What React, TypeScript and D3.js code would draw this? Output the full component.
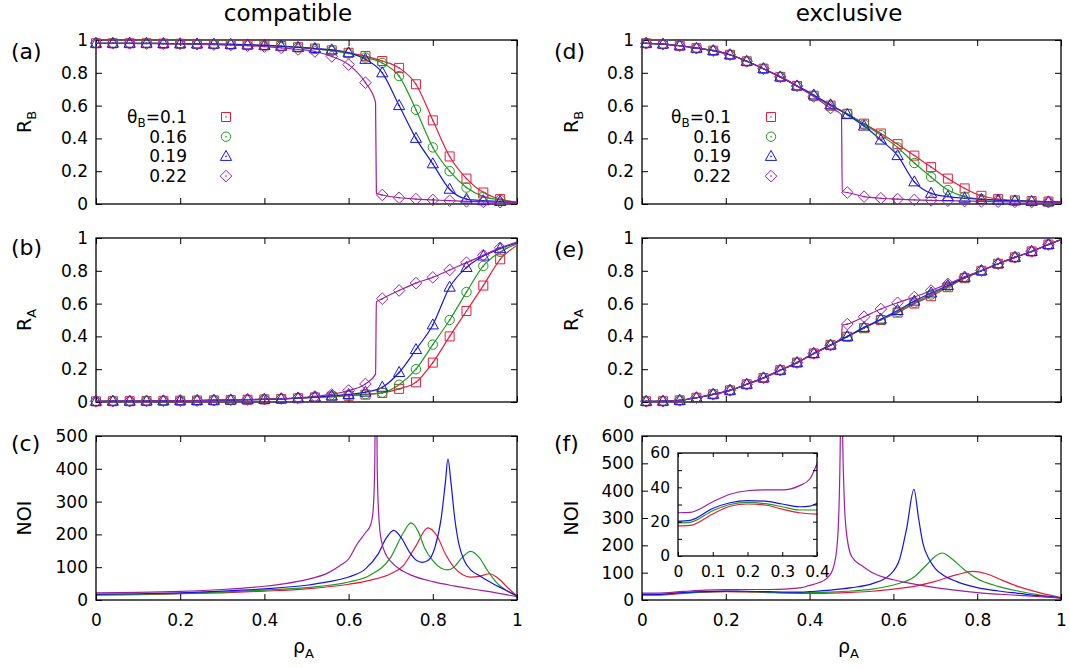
import React, { useRef, useEffect } from "react";
import * as d3 from "d3";

const W = 1070;
const H = 668;
const FONT = "'DejaVu Sans', sans-serif";

// legend / series
const thetaB = ["0.1", "0.16", "0.19", "0.22"];
const colors = ["#e41c3c", "#1e9a1e", "#1414e0", "#9c1fa3"];
const shapes = ["square", "circle", "triangle", "diamond"];

// ticks
const unitTicks = [0, 0.2, 0.4, 0.6, 0.8, 1];
const noiTicksC = [0, 100, 200, 300, 400, 500];
const noiTicksF = [0, 100, 200, 300, 400, 500, 600];
const insetXTicks = [0, 0.1, 0.2, 0.3, 0.4];
const insetYTicks = [0, 10, 20, 30, 40, 50, 60];
const insetYLabels = [0, 20, 40, 60];

// marker abscissae (rho_A)
const rhoLeft = [0, 0.04, 0.08, 0.12, 0.16, 0.2, 0.24, 0.28, 0.32, 0.36, 0.4, 0.44, 0.48, 0.52, 0.56, 0.6, 0.64, 0.68, 0.72, 0.76, 0.8, 0.84, 0.88, 0.92, 0.96];
const rhoRight = [0.01, 0.05, 0.09, 0.13, 0.17, 0.21, 0.25, 0.29, 0.33, 0.37, 0.41, 0.45, 0.49, 0.53, 0.57, 0.61, 0.65, 0.69, 0.73, 0.77, 0.81, 0.85, 0.89, 0.93, 0.97];

// (a) R_B, compatible
const aRed = [0.98, 0.98, 0.98, 0.98, 0.978, 0.977, 0.976, 0.975, 0.973, 0.97, 0.967, 0.963, 0.956, 0.948, 0.937, 0.922, 0.902, 0.872, 0.83, 0.73, 0.51, 0.29, 0.155, 0.07, 0.03];
const aGreen = [0.98, 0.98, 0.98, 0.98, 0.978, 0.977, 0.976, 0.975, 0.973, 0.97, 0.967, 0.962, 0.955, 0.946, 0.934, 0.918, 0.893, 0.86, 0.78, 0.575, 0.345, 0.2, 0.1, 0.045, 0.025];
const aBlue = [0.98, 0.98, 0.98, 0.98, 0.978, 0.977, 0.976, 0.975, 0.973, 0.97, 0.967, 0.962, 0.955, 0.948, 0.94, 0.922, 0.882, 0.8, 0.6, 0.4, 0.245, 0.09, 0.03, 0.02, 0.015];
const aPurple = [0.98, 0.98, 0.979, 0.978, 0.977, 0.976, 0.974, 0.972, 0.969, 0.965, 0.96, 0.952, 0.942, 0.93, 0.9, 0.85, 0.74, 0.055, 0.038, 0.03, 0.025, 0.02, 0.016, 0.013, 0.011];
const aExtra = [[[1, 0.01]], [[1, 0.01]], [[1, 0.008]], [[0.664, 0.62], [0.666, 0.065], [1, 0.008]]];

// (b) R_A, compatible
const bRed = [0.004, 0.005, 0.005, 0.006, 0.007, 0.008, 0.009, 0.01, 0.012, 0.014, 0.016, 0.019, 0.023, 0.028, 0.033, 0.038, 0.045, 0.055, 0.08, 0.12, 0.24, 0.4, 0.555, 0.71, 0.87];
const bGreen = [0.004, 0.005, 0.005, 0.006, 0.007, 0.008, 0.009, 0.01, 0.012, 0.014, 0.016, 0.019, 0.023, 0.028, 0.033, 0.04, 0.048, 0.057, 0.105, 0.2, 0.35, 0.5, 0.67, 0.83, 0.915];
const bBlue = [0.004, 0.005, 0.005, 0.006, 0.007, 0.008, 0.009, 0.01, 0.012, 0.014, 0.016, 0.019, 0.024, 0.03, 0.037, 0.046, 0.06, 0.09, 0.18, 0.32, 0.47, 0.7, 0.82, 0.89, 0.935];
const bPurple = [0.004, 0.005, 0.005, 0.006, 0.007, 0.008, 0.009, 0.011, 0.013, 0.015, 0.018, 0.021, 0.026, 0.034, 0.046, 0.07, 0.11, 0.63, 0.68, 0.725, 0.76, 0.805, 0.85, 0.895, 0.94];
const bExtra = [[[1, 0.955]], [[1, 0.965]], [[1, 0.97]], [[0.664, 0.17], [0.666, 0.61], [1, 0.975]]];

// (d) R_B, exclusive
const dRed = [0.98, 0.975, 0.965, 0.95, 0.935, 0.91, 0.87, 0.825, 0.775, 0.72, 0.66, 0.6, 0.55, 0.49, 0.43, 0.365, 0.295, 0.225, 0.155, 0.095, 0.05, 0.03, 0.022, 0.018, 0.015];
const dGreen = [0.98, 0.975, 0.965, 0.95, 0.935, 0.91, 0.87, 0.825, 0.775, 0.72, 0.66, 0.6, 0.55, 0.485, 0.42, 0.345, 0.25, 0.165, 0.085, 0.045, 0.03, 0.024, 0.02, 0.017, 0.014];
const dBlue = [0.98, 0.975, 0.965, 0.95, 0.935, 0.91, 0.87, 0.825, 0.775, 0.72, 0.665, 0.605, 0.545, 0.475, 0.39, 0.295, 0.135, 0.065, 0.045, 0.035, 0.028, 0.023, 0.019, 0.016, 0.013];
const dPurple = [0.98, 0.975, 0.965, 0.95, 0.935, 0.91, 0.87, 0.825, 0.775, 0.72, 0.655, 0.585, 0.07, 0.045, 0.035, 0.03, 0.025, 0.022, 0.02, 0.018, 0.016, 0.014, 0.013, 0.012, 0.011];
const dExtra = [[[0, 0.98], [1, 0.012]], [[0, 0.98], [1, 0.012]], [[0, 0.98], [1, 0.011]], [[0, 0.98], [0.476, 0.545], [0.478, 0.075], [1, 0.01]]];

// (e) R_A, exclusive
const eRed = [0.004, 0.005, 0.01, 0.026, 0.047, 0.071, 0.108, 0.147, 0.194, 0.24, 0.296, 0.347, 0.398, 0.45, 0.5, 0.545, 0.6, 0.645, 0.7, 0.755, 0.8, 0.843, 0.882, 0.918, 0.96];
const eGreen = [0.004, 0.005, 0.01, 0.026, 0.047, 0.071, 0.108, 0.147, 0.194, 0.24, 0.296, 0.347, 0.398, 0.452, 0.502, 0.55, 0.605, 0.655, 0.705, 0.757, 0.8, 0.843, 0.882, 0.918, 0.96];
const eBlue = [0.004, 0.005, 0.01, 0.026, 0.047, 0.071, 0.108, 0.147, 0.194, 0.24, 0.296, 0.347, 0.4, 0.455, 0.505, 0.558, 0.615, 0.665, 0.71, 0.76, 0.8, 0.843, 0.882, 0.918, 0.96];
const ePurple = [0.004, 0.005, 0.01, 0.026, 0.047, 0.071, 0.108, 0.147, 0.194, 0.24, 0.296, 0.347, 0.475, 0.52, 0.567, 0.605, 0.64, 0.68, 0.72, 0.763, 0.802, 0.843, 0.882, 0.918, 0.96];
const eExtra = [[[0, 0.003], [1, 0.99]], [[0, 0.003], [1, 0.99]], [[0, 0.003], [1, 0.99]], [[0, 0.003], [0.476, 0.392], [0.478, 0.468], [1, 0.99]]];

// (c) NOI, compatible  [rho_A, NOI]
const cRed = [[0, 15], [0.1, 16], [0.2, 19], [0.3, 22], [0.4, 27], [0.5, 34], [0.6, 48], [0.65, 60], [0.7, 80], [0.73, 105], [0.76, 165], [0.788, 220], [0.81, 195], [0.83, 140], [0.85, 100], [0.87, 78], [0.89, 70], [0.91, 72], [0.935, 80], [0.955, 66], [0.98, 35], [1, 12]];
const cGreen = [[0, 16], [0.1, 17], [0.2, 20], [0.3, 24], [0.4, 30], [0.5, 38], [0.6, 55], [0.65, 75], [0.7, 130], [0.73, 205], [0.748, 235], [0.765, 210], [0.78, 160], [0.8, 120], [0.82, 97], [0.835, 92], [0.85, 100], [0.87, 130], [0.89, 148], [0.91, 130], [0.93, 90], [0.95, 55], [0.98, 25], [1, 12]];
const cBlue = [[0, 18], [0.1, 19], [0.2, 22], [0.3, 27], [0.4, 34], [0.5, 45], [0.55, 55], [0.6, 70], [0.64, 95], [0.67, 140], [0.69, 190], [0.707, 212], [0.725, 190], [0.745, 145], [0.76, 122], [0.775, 115], [0.79, 122], [0.805, 160], [0.82, 250], [0.83, 360], [0.836, 430], [0.843, 360], [0.852, 250], [0.862, 170], [0.875, 120], [0.89, 92], [0.91, 75], [0.94, 52], [0.97, 32], [1, 12]];
const cPurple = [[0, 22], [0.1, 23], [0.2, 26], [0.3, 32], [0.4, 42], [0.45, 50], [0.5, 62], [0.55, 82], [0.58, 105], [0.6, 125], [0.62, 170], [0.64, 205], [0.652, 228], [0.658, 270], [0.662, 400], [0.665, 900], [0.668, 400], [0.672, 250], [0.678, 180], [0.69, 135], [0.7, 118], [0.72, 95], [0.75, 75], [0.8, 56], [0.85, 43], [0.9, 32], [0.95, 22], [1, 10]];

// (f) NOI, exclusive  [rho_A, NOI]
const fRed = [[0, 17.5], [0.035, 17.8], [0.1, 24.5], [0.15, 29], [0.2, 30.3], [0.25, 29.7], [0.3, 27.3], [0.35, 25.2], [0.4, 24.4], [0.45, 25.5], [0.5, 28], [0.55, 32], [0.6, 40], [0.65, 50], [0.7, 68], [0.75, 92], [0.79, 105], [0.82, 97], [0.86, 72], [0.9, 48], [0.95, 26], [1, 9]];
const fGreen = [[0, 19.3], [0.035, 19.6], [0.1, 26.4], [0.15, 30], [0.2, 31.2], [0.25, 30.5], [0.3, 28.7], [0.35, 26.8], [0.4, 26.8], [0.45, 29], [0.5, 33], [0.55, 40], [0.6, 55], [0.65, 85], [0.68, 130], [0.7, 160], [0.717, 172], [0.74, 150], [0.77, 110], [0.8, 78], [0.85, 50], [0.9, 32], [0.95, 18], [1, 8]];
const fBlue = [[0, 20.3], [0.035, 20.8], [0.1, 27.7], [0.15, 31], [0.2, 32.2], [0.25, 32], [0.3, 30.3], [0.35, 28.7], [0.38, 29], [0.4, 30.7], [0.45, 36], [0.5, 45], [0.55, 60], [0.59, 90], [0.615, 150], [0.632, 265], [0.649, 405], [0.66, 300], [0.67, 210], [0.685, 150], [0.7, 115], [0.72, 90], [0.75, 68], [0.8, 45], [0.85, 33], [0.9, 24], [0.95, 15], [1, 8]];
const fPurple = [[0, 25.2], [0.035, 25.4], [0.1, 31.6], [0.15, 36], [0.2, 38], [0.25, 38.5], [0.3, 38.5], [0.35, 41], [0.38, 45], [0.4, 53.7], [0.42, 62], [0.44, 78], [0.455, 110], [0.465, 190], [0.47, 330], [0.474, 700], [0.476, 1200], [0.478, 700], [0.482, 400], [0.487, 260], [0.5, 160], [0.525, 125], [0.55, 100], [0.58, 82], [0.6, 74], [0.65, 58], [0.7, 45], [0.8, 27], [0.9, 17], [1, 7]];

const markerPath = {
  square: "M-4.5,-4.5h9v9h-9z",
  triangle: "M0,-6L5.6,4L-5.6,4Z",
  diamond: "M0,-5.8L5.8,0L0,5.8L-5.8,0Z",
};

function drawMarker(g, shape, cx, cy, color) {
  if (shape === "circle") {
    g.append("circle").attr("cx", cx).attr("cy", cy).attr("r", 4.7)
      .attr("fill", "none").attr("stroke", color).attr("stroke-width", 1);
  } else {
    g.append("path").attr("d", markerPath[shape]).attr("transform", `translate(${cx},${cy})`)
      .attr("fill", "none").attr("stroke", color).attr("stroke-width", 1);
  }
  g.append("circle").attr("cx", cx).attr("cy", cy).attr("r", 0.8).attr("fill", color);
}

const fmt = (d) => d3.format("~g")(d);

function drawAxes(g, x, y, xTicks, yTicks, opt) {
  const { showX = false, tick = 6, fs = 17, xPad = 14, yPad = 8, yLabels = null } = opt || {};
  const [x0, x1] = x.range();
  const [y0, y1] = y.range();
  g.append("g").attr("transform", `translate(0,${y0})`)
    .call(d3.axisBottom(x).tickValues(xTicks).tickSizeInner(-tick).tickSizeOuter(0).tickPadding(xPad)
      .tickFormat(showX ? fmt : () => ""));
  g.append("g").attr("transform", `translate(0,${y1})`)
    .call(d3.axisTop(x).tickValues(xTicks).tickSizeInner(-tick).tickSizeOuter(0).tickFormat(() => ""));
  g.append("g").attr("transform", `translate(${x0},0)`)
    .call(d3.axisLeft(y).tickValues(yTicks).tickSizeInner(-tick).tickSizeOuter(0).tickPadding(yPad)
      .tickFormat((d) => (yLabels && !yLabels.includes(d) ? "" : fmt(d))));
  g.append("g").attr("transform", `translate(${x1},0)`)
    .call(d3.axisRight(y).tickValues(yTicks).tickSizeInner(-tick).tickSizeOuter(0).tickFormat(() => ""));
  g.selectAll(".domain").remove();
  g.selectAll(".tick line").attr("stroke", "#000");
  g.selectAll(".tick text").attr("font-family", FONT).attr("font-size", fs).attr("fill", "#000");
  g.append("rect").attr("x", x0).attr("y", y1).attr("width", x1 - x0).attr("height", y0 - y1)
    .attr("fill", "none").attr("stroke", "#000").attr("stroke-width", 1.3);
}

const App = () => {
  const ref = useRef(null);

  useEffect(() => {
    const svg = d3.select(ref.current);
    svg.selectAll("*").remove();

    const defs = svg.append("defs");
    const clip = (id, x, y) => {
      const [x0, x1] = x.range();
      const [y0, y1] = y.range();
      defs.append("clipPath").attr("id", id).append("rect")
        .attr("x", x0).attr("y", y1).attr("width", x1 - x0).attr("height", y0 - y1);
      return `url(#${id})`;
    };

    const xL = d3.scaleLinear().domain([0, 1]).range([96, 517]);
    const xR = d3.scaleLinear().domain([0, 1]).range([642, 1061]);
    const row1 = [204, 40];
    const row2 = [402, 238];
    const row3 = [600, 436];

    // titles
    svg.append("text").attr("x", 288).attr("y", 21).attr("text-anchor", "middle")
      .attr("font-family", FONT).attr("font-size", 23).text("compatible");
    svg.append("text").attr("x", 849).attr("y", 21).attr("text-anchor", "middle")
      .attr("font-family", FONT).attr("font-size", 23).text("exclusive");

    const panelLabel = (txt, x, y) =>
      svg.append("text").attr("x", x).attr("y", y).attr("font-family", FONT).attr("font-size", 22).text(txt);

    const yLabel = (x, yc, main, sub) => {
      const t = svg.append("text").attr("transform", `translate(${x},${yc}) rotate(-90)`)
        .attr("text-anchor", "middle").attr("font-family", FONT).attr("font-size", 19);
      t.append("tspan").text(main);
      if (sub) t.append("tspan").attr("font-size", 13).attr("dy", 5).text(sub);
    };

    const line = (x, y) => d3.line().x((d) => x(d[0])).y((d) => y(d[1])).curve(d3.curveMonotoneX);

    const markerPanels = [
      { id: "a", x: xL, yr: row1, rho: rhoLeft, vals: [aRed, aGreen, aBlue, aPurple], extra: aExtra, sub: "B", legend: [187, 226] },
      { id: "b", x: xL, yr: row2, rho: rhoLeft, vals: [bRed, bGreen, bBlue, bPurple], extra: bExtra, sub: "A" },
      { id: "d", x: xR, yr: row1, rho: rhoRight, vals: [dRed, dGreen, dBlue, dPurple], extra: dExtra, sub: "B", legend: [731, 771] },
      { id: "e", x: xR, yr: row2, rho: rhoRight, vals: [eRed, eGreen, eBlue, ePurple], extra: eExtra, sub: "A" },
    ];

    markerPanels.forEach((p) => {
      const y = d3.scaleLinear().domain([0, 1]).range(p.yr);
      const g = svg.append("g");
      drawAxes(g, p.x, y, unitTicks, unitTicks, {});
      const lines = g.append("g").attr("clip-path", clip(`clip-${p.id}`, p.x, y));
      p.vals.forEach((vals, i) => {
        const pts = p.rho.map((r, k) => [r, vals[k]]).concat(p.extra[i]).sort((u, v) => u[0] - v[0]);
        lines.append("path").attr("d", line(p.x, y)(pts)).attr("fill", "none")
          .attr("stroke", colors[i]).attr("stroke-width", 1.2);
      });
      const mk = g.append("g");
      p.vals.forEach((vals, i) => {
        p.rho.forEach((r, k) => drawMarker(mk, shapes[i], p.x(r), y(vals[k]), colors[i]));
      });
      const xc = p.x === xL ? 31 : 578;
      yLabel(xc, (p.yr[0] + p.yr[1]) / 2, "R", p.sub);

      if (p.legend) {
        const [tx, mx] = p.legend;
        thetaB.forEach((th, i) => {
          const yc = 117 + i * 19.7;
          const t = g.append("text").attr("x", tx).attr("y", yc + 6).attr("text-anchor", "end")
            .attr("font-family", FONT).attr("font-size", 17);
          if (i === 0) {
            t.append("tspan").text("θ");
            t.append("tspan").attr("font-size", 12).attr("dy", 4).text("B");
            t.append("tspan").attr("dy", -4).text("=" + th);
          } else {
            t.text(th);
          }
          drawMarker(g, shapes[i], mx, yc, colors[i]);
        });
      }
    });

    // NOI panels
    const noiPanels = [
      { id: "c", x: xL, max: 500, ticks: noiTicksC, series: [cRed, cGreen, cBlue, cPurple] },
      { id: "f", x: xR, max: 600, ticks: noiTicksF, series: [fRed, fGreen, fBlue, fPurple] },
    ];
    noiPanels.forEach((p) => {
      const y = d3.scaleLinear().domain([0, p.max]).range(row3);
      const g = svg.append("g");
      const lines = g.append("g").attr("clip-path", clip(`clip-${p.id}`, p.x, y));
      p.series.forEach((s, i) => {
        lines.append("path").attr("d", line(p.x, y)(s)).attr("fill", "none")
          .attr("stroke", colors[i]).attr("stroke-width", 1.2);
      });
      drawAxes(g, p.x, y, unitTicks, p.ticks, { showX: true });
      const xc = p.x === xL ? 31 : 578;
      yLabel(xc, (row3[0] + row3[1]) / 2, "NOI", null);
      const xl = svg.append("text").attr("x", (p.x.range()[0] + p.x.range()[1]) / 2 - 3).attr("y", 653)
        .attr("text-anchor", "middle").attr("font-family", FONT).attr("font-size", 19);
      xl.append("tspan").text("ρ");
      xl.append("tspan").attr("font-size", 13).attr("dy", 5).text("A");
    });

    // inset in (f)
    const xi = d3.scaleLinear().domain([0, 0.4]).range([678, 817]);
    const yi = d3.scaleLinear().domain([0, 60]).range([556, 453]);
    const gi = svg.append("g");
    gi.append("rect").attr("x", 678).attr("y", 453).attr("width", 817 - 678).attr("height", 556 - 453).attr("fill", "#fff");
    const li = gi.append("g").attr("clip-path", clip("clip-inset", xi, yi));
    [fRed, fGreen, fBlue, fPurple].forEach((s, i) => {
      li.append("path").attr("d", line(xi, yi)(s.filter((d) => d[0] <= 0.45))).attr("fill", "none")
        .attr("stroke", colors[i]).attr("stroke-width", 1.2);
    });
    drawAxes(gi, xi, yi, insetXTicks, insetYTicks, { showX: true, tick: 4, fs: 15.5, xPad: 10, yPad: 8, yLabels: insetYLabels });

    panelLabel("(a)", 11, 59);
    panelLabel("(b)", 11, 255);
    panelLabel("(c)", 11, 451);
    panelLabel("(d)", 554, 59);
    panelLabel("(e)", 554, 257);
    panelLabel("(f)", 554, 451);
  }, []);

  return (
    <svg ref={ref} width={W} height={H}
      style={{ position: "absolute", left: 0, top: 0, background: "#fff" }} />
  );
};

export default App;
